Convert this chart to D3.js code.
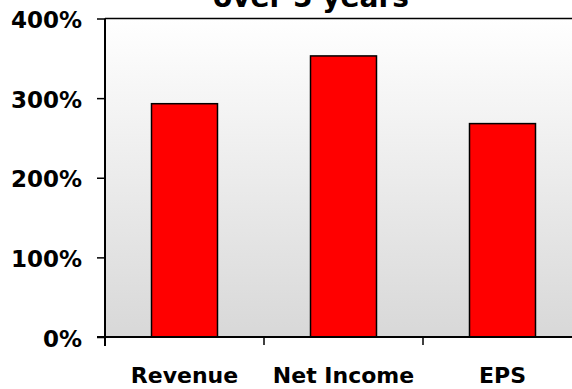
<!DOCTYPE html>
<html>
<head>
<meta charset="utf-8">
<script src="https://cdn.jsdelivr.net/npm/d3@7"></script>
<style>
  html, body { margin: 0; padding: 0; background: #fff; overflow: hidden; }
  svg { display: block; }
  text { font-family: "DejaVu Sans", Verdana, sans-serif; font-weight: bold; fill: #000; }
</style>
</head>
<body>
<script>
// Growth over 5 years, per measure
const categories = ["Revenue", "Net Income", "EPS"];
const growth = [293, 353, 268];          // percent
const yTicks = [0, 100, 200, 300, 400];
const title = "over 5 years";

const W = 572, H = 389;
const plot = { left: 105, right: 582, top: 18.5, bottom: 337 };

const svg = d3.select("body").append("svg").attr("width", W).attr("height", H);

const defs = svg.append("defs");
const grad = defs.append("linearGradient").attr("id", "bg").attr("x1", 0).attr("y1", 0).attr("x2", 0).attr("y2", 1);
grad.append("stop").attr("offset", "0%").attr("stop-color", "#ffffff");
grad.append("stop").attr("offset", "100%").attr("stop-color", "#d8d8d8");

const pad = 0.585;
const x = d3.scaleBand().domain(categories).range([plot.left, plot.right])
  .paddingInner(pad).paddingOuter(pad / 2);
const y = d3.scaleLinear().domain([0, 400]).range([plot.bottom, plot.top]);

// plot background
svg.append("rect")
  .attr("x", plot.left).attr("y", plot.top)
  .attr("width", plot.right - plot.left).attr("height", plot.bottom - plot.top)
  .attr("fill", "url(#bg)");

// top border of plot area
svg.append("line")
  .attr("x1", plot.left).attr("x2", plot.right)
  .attr("y1", plot.top).attr("y2", plot.top)
  .attr("stroke", "#000").attr("stroke-width", 1.5);

// bars
svg.append("g").selectAll("rect").data(categories).join("rect")
  .attr("x", d => x(d))
  .attr("y", (d, i) => y(growth[i]))
  .attr("width", x.bandwidth())
  .attr("height", (d, i) => y(0) - y(growth[i]))
  .attr("fill", "#ff0000")
  .attr("stroke", "#000").attr("stroke-width", 1.5);

// y axis
const yAxis = d3.axisLeft(y).tickValues(yTicks).tickFormat(d => d + "%").tickSize(8).tickPadding(15);
const gy = svg.append("g").attr("transform", `translate(${plot.left},0)`).call(yAxis);
gy.select(".domain").remove();
gy.selectAll(".tick line").attr("stroke", "#000").attr("stroke-width", 1.5);
gy.selectAll(".tick text").attr("font-size", 23).attr("font-family", null).attr("dy", "0.4em");
svg.append("line")
  .attr("x1", plot.left).attr("x2", plot.left)
  .attr("y1", plot.top).attr("y2", plot.bottom + 9)
  .attr("stroke", "#000").attr("stroke-width", 2);

// x axis baseline
svg.append("line")
  .attr("x1", plot.left - 8).attr("x2", plot.right)
  .attr("y1", plot.bottom).attr("y2", plot.bottom)
  .attr("stroke", "#000").attr("stroke-width", 2);

// x tick marks between categories
const step = x.step();
const tickXs = categories.map(c => x(c) - step * pad / 2);
svg.append("g").selectAll("line").data(tickXs).join("line")
  .attr("x1", d => d).attr("x2", d => d)
  .attr("y1", plot.bottom).attr("y2", plot.bottom + 8)
  .attr("stroke", "#000").attr("stroke-width", 1.5);

// category labels
svg.append("g").selectAll("text").data(categories).join("text")
  .attr("x", d => x(d) + x.bandwidth() / 2)
  .attr("y", 383)
  .attr("text-anchor", "middle")
  .attr("font-size", 22)
  .text(d => d);

// title
svg.append("text")
  .attr("x", 311).attr("y", 6.5)
  .attr("text-anchor", "middle")
  .attr("font-size", 28)
  .text(title);
</script>
</body>
</html>
